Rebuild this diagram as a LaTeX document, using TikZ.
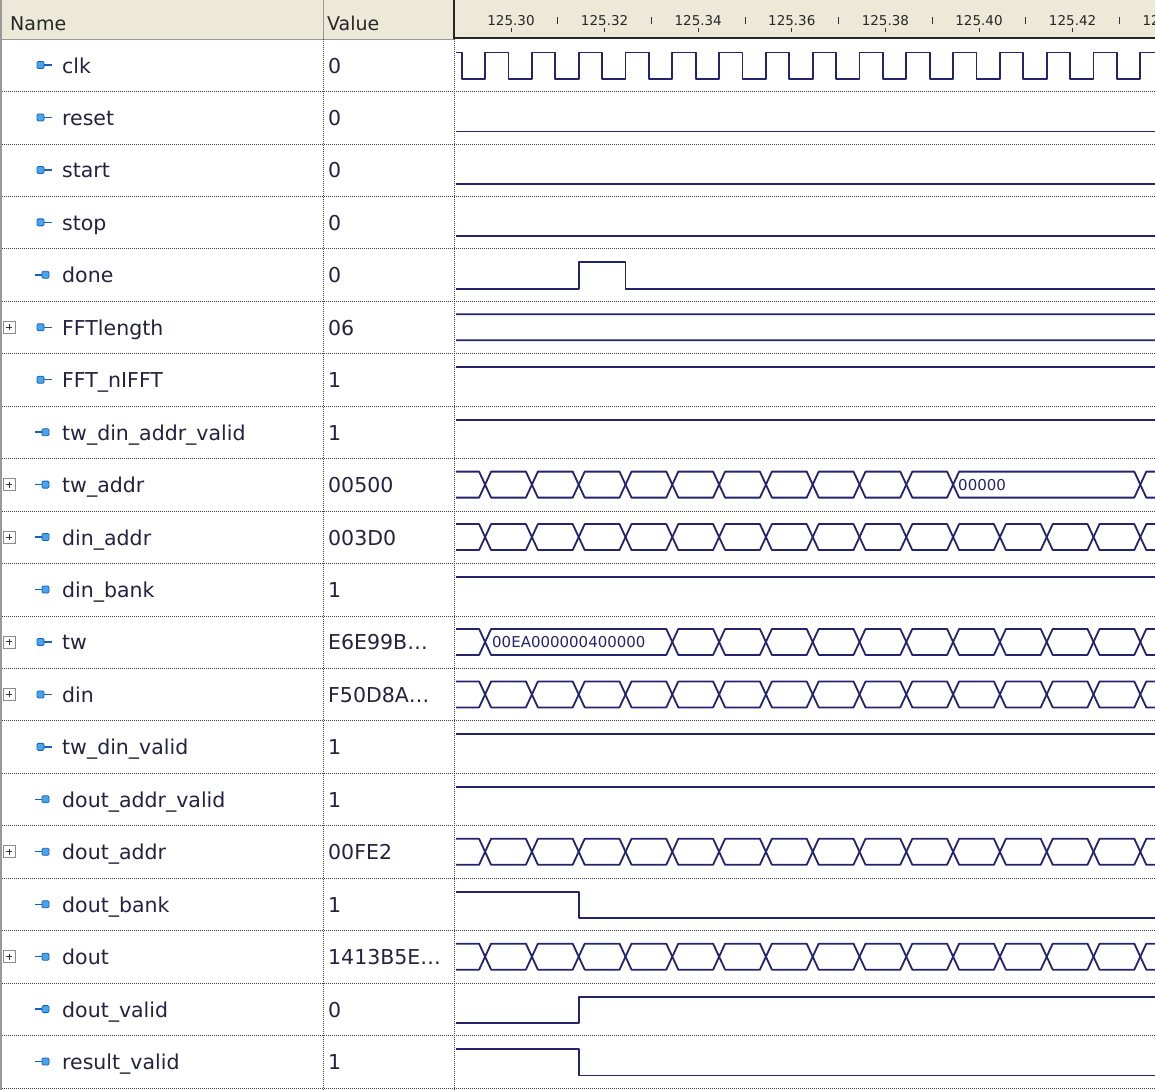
\documentclass[tikz,border=0pt]{standalone}
\usepackage{fontspec}
\setmainfont{DejaVu Sans}
\definecolor{hdrbg}{RGB}{236,233,216}
\definecolor{wavec}{RGB}{35,35,110}
\definecolor{txtc}{RGB}{35,35,65}
\definecolor{pinfill}{RGB}{70,165,235}
\definecolor{pinedge}{RGB}{25,95,185}
\def\rowy#1#2{39+52.45*#1+#2}
\newcommand\busrow[2]{\foreach \kb [remember=\kb as \ka (initially -1)] in {#2}
  {\draw[sig] (485.1+46.8*\ka,\rowy{#1}{26}) -- (491.1+46.8*\ka,\rowy{#1}{13}) -- (479.1+46.8*\kb,\rowy{#1}{13})
     -- (485.1+46.8*\kb,\rowy{#1}{26}) -- (479.1+46.8*\kb,\rowy{#1}{39}) -- (491.1+46.8*\ka,\rowy{#1}{39}) -- cycle;}}
\begin{document}
\begin{tikzpicture}[x=1pt,y=-1pt,
  sig/.style={wavec,line width=1.8pt,line join=round},
  sep/.style={black!75,line width=0.8pt,dash pattern=on 0.8pt off 1.2pt},
  lbl/.style={anchor=base west,inner sep=0pt,text=txtc,font=\fontsize{20.5}{24}\selectfont},
  hd/.style={anchor=base west,inner sep=0pt,text=black!85,font=\fontsize{19}{22}\selectfont},
  tick/.style={anchor=base,inner sep=0pt,text=black!85,font=\fontsize{13.5}{16}\selectfont},
  bustxt/.style={anchor=west,inner sep=0pt,text=wavec,font=\fontsize{15}{18}\selectfont},
  pin/.style={fill=pinfill,draw=pinedge,line width=0.8pt,rounded corners=1.2pt},
  pinline/.style={pinedge,line width=1.4pt},
  plusbox/.style={draw=black!45,fill=white,line width=0.8pt}]
\useasboundingbox (0,0) rectangle (1155,1090);
\fill[white] (0,0) rectangle (1155,1090);
\fill[hdrbg] (0,0) rectangle (1155,39);
\draw[black!40] (0,39) -- (454,39) (323,0) -- (323,39);
\draw[black!85,line width=2pt] (454,0) -- (454,38) -- (1155,38);
\node[hd] (hname) at (10,30) {Name};
\node[hd] (hvalue) at (327,30) {Value};
\begin{scope}
  \clip (456,0) rectangle (1155,37);
  \foreach \j [evaluate=\j as \tx using 511+93.6*\j, evaluate=\j as \tv using int(30+2*\j)] in {0,...,7} {
    \node[tick] (t\j) at (\tx,25) {125.\tv};
    \draw[black!80,line width=0.8pt] (\tx,28) -- (\tx,32) (\tx+46.8,17) -- (\tx+46.8,24);
  }
\end{scope}
\draw[black!40,line width=2pt] (1,0) -- (1,1090);
\foreach \i/\nm/\val/\dir/\bus in {0/clk/0/1/0, 1/reset/0/1/0, 2/start/0/1/0, 3/stop/0/1/0, 4/done/0/0/0,
  5/FFTlength/06/1/1, 6/FFT\_nIFFT/1/1/0, 7/tw\_din\_addr\_valid/1/0/0, 8/tw\_addr/00500/0/1, 9/din\_addr/003D0/0/1,
  10/din\_bank/1/0/0, 11/tw/E6E99B\ldots/1/1, 12/din/F50D8A\ldots/1/1, 13/tw\_din\_valid/1/1/0, 14/dout\_addr\_valid/1/0/0,
  15/dout\_addr/00FE2/0/1, 16/dout\_bank/1/0/0, 17/dout/1413B5E\ldots/0/1, 18/dout\_valid/0/0/0, 19/result\_valid/1/0/0} {
  \draw[sep] (2,\rowy{\i}{52.45}) -- (1155,\rowy{\i}{52.45});
  \node[lbl] (n\i) at (62,\rowy{\i}{34}) {\nm};
  \node[lbl] (v\i) at (328,\rowy{\i}{34}) {\val};
  \ifnum\dir=1
    \draw[pin] (37,\rowy{\i}{22.5}) rectangle (44,\rowy{\i}{29.5});
    \draw[pinline] (44,\rowy{\i}{26}) -- (52,\rowy{\i}{26});
  \else
    \draw[pinline] (35,\rowy{\i}{26}) -- (42,\rowy{\i}{26});
    \draw[pin] (42,\rowy{\i}{22.5}) rectangle (49,\rowy{\i}{29.5});
  \fi
  \ifnum\bus=1
    \draw[plusbox] (3,\rowy{\i}{20}) rectangle (15,\rowy{\i}{32});
    \draw[black!80,line width=1pt] (6,\rowy{\i}{26}) -- (12,\rowy{\i}{26}) (9,\rowy{\i}{23}) -- (9,\rowy{\i}{29});
  \fi
}
\draw[sep] (323,39) -- (323,1090) (454,39) -- (454,1090);
\begin{scope}
  \clip (456,39) rectangle (1155,1090);
  \draw[sig] (450,\rowy0{13.5}) \foreach \k in {0,...,15} { -| (461.7+46.8*\k,\rowy0{40}) -| (485.1+46.8*\k,\rowy0{13.5}) };
  \foreach \r in {1,2,3} \draw[sig] (450,\rowy{\r}{40}) -- (1160,\rowy{\r}{40});
  \foreach \r in {6,7,10,13,14} \draw[sig] (450,\rowy{\r}{13.5}) -- (1160,\rowy{\r}{13.5});
  \draw[sig] (450,\rowy4{40}) -| (578.7,\rowy4{13.5}) -| (625.5,\rowy4{40}) -- (1160,\rowy4{40});
  \draw[sig] (450,\rowy{16}{13.5}) -| (578.7,\rowy{16}{40}) -- (1160,\rowy{16}{40});
  \draw[sig] (450,\rowy{18}{40}) -| (578.7,\rowy{18}{13.5}) -- (1160,\rowy{18}{13.5});
  \draw[sig] (450,\rowy{19}{13.5}) -| (578.7,\rowy{19}{40}) -- (1160,\rowy{19}{40});
  \busrow{5}{16}
  \busrow{8}{0,1,2,3,4,5,6,7,8,9,10,14,15}
  \busrow{9}{0,1,2,3,4,5,6,7,8,9,10,11,12,13,14,15}
  \busrow{11}{0,4,5,6,7,8,9,10,11,12,13,14,15}
  \busrow{12}{0,1,2,3,4,5,6,7,8,9,10,11,12,13,14,15}
  \busrow{15}{0,1,2,3,4,5,6,7,8,9,10,11,12,13,14,15}
  \busrow{17}{0,1,2,3,4,5,6,7,8,9,10,11,12,13,14,15}
  \node[bustxt] (twaddr) at (958,\rowy8{26}) {00000};
  \node[bustxt] (twval) at (492,\rowy{11}{26}) {00EA000000400000};
\end{scope}
\end{tikzpicture}
\end{document}
